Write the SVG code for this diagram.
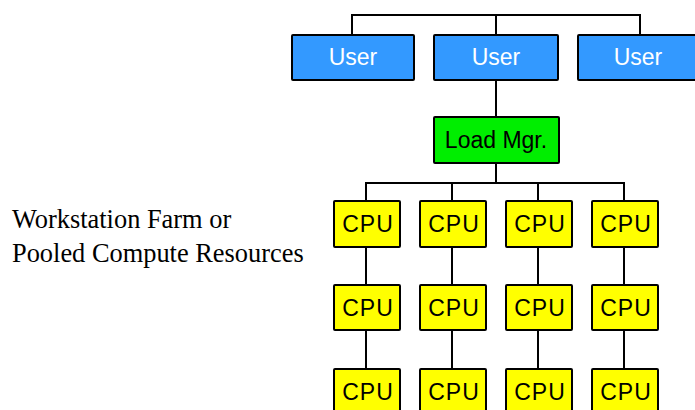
<svg xmlns="http://www.w3.org/2000/svg" width="695" height="410" viewBox="0 0 695 410">
<style>
.box{stroke:#000;stroke-width:2}
.user{fill:#3399ff}
.lm{fill:#00ee00}
.cpu{fill:#ffff00}
.lbl{font-family:"Liberation Sans",Arial,sans-serif;font-size:23px;text-anchor:middle}
.c{letter-spacing:1px}
.w{fill:#fff}
.k{fill:#000}
.conn{stroke:#000;stroke-width:2;fill:none}
.side{font-family:"Liberation Serif","Times New Roman",serif;font-size:26.4px;fill:#000}
</style>
<rect width="695" height="410" fill="#fff"/>
<g id="connectors" class="conn">
<path d="M352 35V15H640V35M496 15V35"/>
<path d="M496 80V117"/>
<path d="M496 163V183M366 201V183H624V201M452 183V201M538 183V201"/>
<path d="M366 247V285M452 247V285M538 247V285M624 247V285"/>
<path d="M366 330V369M452 330V369M538 330V369M624 330V369"/>
</g>
<g id="user1"><rect class="box user" x="292" y="35" width="122" height="45" rx="1"/><text class="lbl w" x="353" y="65">User</text></g>
<g id="user2"><rect class="box user" x="434" y="35" width="124" height="45" rx="1"/><text class="lbl w" x="496" y="65">User</text></g>
<g id="user3"><rect class="box user" x="578" y="35" width="124" height="45" rx="1"/><text class="lbl w" x="638" y="65">User</text></g>
<g id="loadmgr"><rect class="box lm" x="434" y="117" width="125" height="46" rx="1"/><text class="lbl k" x="496" y="148">Load Mgr.</text></g>
<g id="cpu11"><rect class="box cpu" x="334" y="201" width="66" height="46" rx="1"/><text class="lbl k c" x="368" y="232">CPU</text></g>
<g id="cpu12"><rect class="box cpu" x="420" y="201" width="66" height="46" rx="1"/><text class="lbl k c" x="454" y="232">CPU</text></g>
<g id="cpu13"><rect class="box cpu" x="506" y="201" width="66" height="46" rx="1"/><text class="lbl k c" x="540" y="232">CPU</text></g>
<g id="cpu14"><rect class="box cpu" x="592" y="201" width="66" height="46" rx="1"/><text class="lbl k c" x="626" y="232">CPU</text></g>
<g id="cpu21"><rect class="box cpu" x="334" y="285" width="66" height="45" rx="1"/><text class="lbl k c" x="368" y="316">CPU</text></g>
<g id="cpu22"><rect class="box cpu" x="420" y="285" width="66" height="45" rx="1"/><text class="lbl k c" x="454" y="316">CPU</text></g>
<g id="cpu23"><rect class="box cpu" x="506" y="285" width="66" height="45" rx="1"/><text class="lbl k c" x="540" y="316">CPU</text></g>
<g id="cpu24"><rect class="box cpu" x="592" y="285" width="66" height="45" rx="1"/><text class="lbl k c" x="626" y="316">CPU</text></g>
<g id="cpu31"><rect class="box cpu" x="334" y="369" width="66" height="46" rx="1"/><text class="lbl k c" x="368" y="400">CPU</text></g>
<g id="cpu32"><rect class="box cpu" x="420" y="369" width="66" height="46" rx="1"/><text class="lbl k c" x="454" y="400">CPU</text></g>
<g id="cpu33"><rect class="box cpu" x="506" y="369" width="66" height="46" rx="1"/><text class="lbl k c" x="540" y="400">CPU</text></g>
<g id="cpu34"><rect class="box cpu" x="592" y="369" width="66" height="46" rx="1"/><text class="lbl k c" x="626" y="400">CPU</text></g>
<g id="caption"><text class="side" x="12" y="228">Workstation Farm or</text><text class="side" x="12" y="262">Pooled Compute Resources</text></g>
</svg>
